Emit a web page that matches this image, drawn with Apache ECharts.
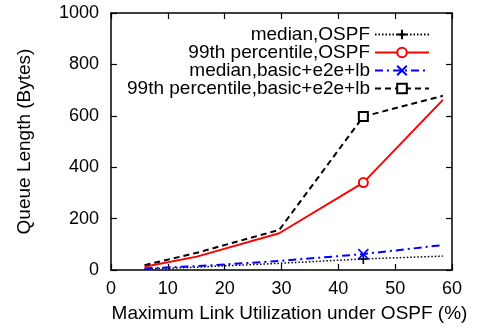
<!DOCTYPE html>
<html>
<head>
<meta charset="utf-8">
<script src="https://cdn.jsdelivr.net/npm/echarts@6/dist/echarts.min.js"></script>
<style>html,body{margin:0;padding:0;background:#fff}#chart{width:483px;height:330px}</style>
</head>
<body>
<div id="chart"></div>
<script>
// Maximum link utilization (%) at each measurement
const utilization = [5.9, 15.1, 29.6, 44.4, 58.4];
const medianOSPF = [4, 11, 26, 43, 54];
const p99OSPF = [13, 52, 143, 340, 662];
const medianE2E = [6, 15, 35, 62, 97];
const p99E2E = [19, 67, 156, 597, 678];
// Only this sample carries a marker
const markedIndex = 3;
const seriesNames = ['median,OSPF', '99th percentile,OSPF', 'median,basic+e2e+lb', '99th percentile,basic+e2e+lb'];

const FONT = 'Liberation Sans';
const plusPath = 'path://M5,0L5,10M0,5L10,5';
const crossPath = 'path://M0,0L10,10M10,0L0,10';

function pairs(values) {
  return values.map((v, i) => {
    const item = { value: [utilization[i], v] };
    if (i !== markedIndex) item.symbol = 'none';
    return item;
  });
}

function makeSeries(name, values, color, lineType, width, symbol, symbolSize) {
  return {
    name, type: 'line', data: pairs(values),
    symbol, symbolSize, showSymbol: true,
    lineStyle: { color, width, type: lineType },
    itemStyle: { color, borderColor: color, borderWidth: 1.6 },
    emphasis: { disabled: true },
    animation: false
  };
}

const chart = echarts.init(document.getElementById('chart'));
const axisLine = { show: true, onZero: false, lineStyle: { color: '#000', width: 1.5 } };
const axisTick = { show: true, inside: true, length: 6, lineStyle: { color: '#000', width: 1.2 } };
const tickFont = { fontFamily: FONT, fontSize: 18, color: '#000' };

chart.setOption({
  backgroundColor: '#fff',
  animation: false,
  grid: { left: 111, right: 31, top: 13, bottom: 60 },
  legend: {
    orient: 'vertical', right: 48, top: 20, align: 'right',
    itemWidth: 54, itemHeight: 12, itemGap: -1,
    textStyle: { fontFamily: FONT, fontSize: 19, color: '#000' },
    data: seriesNames
  },
  xAxis: [{
    type: 'value', min: 0, max: 60, interval: 10,
    name: 'Maximum Link Utilization under OSPF (%)', nameLocation: 'middle', nameGap: 34,
    nameTextStyle: { fontFamily: FONT, fontSize: 19, color: '#000', padding: [0, 0, 0, 16] },
    axisLine, axisTick, splitLine: { show: false },
    axisLabel: Object.assign({ margin: 10 }, tickFont)
  }, {
    type: 'value', min: 0, max: 60, interval: 10, position: 'top',
    axisLine, axisTick, splitLine: { show: false }, axisLabel: { show: false }
  }],
  yAxis: [{
    type: 'value', min: 0, max: 1000, interval: 200,
    name: 'Queue Length (Bytes)', nameLocation: 'middle', nameGap: 77,
    nameTextStyle: { fontFamily: FONT, fontSize: 19, color: '#000' },
    axisLine, axisTick, splitLine: { show: false },
    axisLabel: Object.assign({ margin: 12, formatter: v => String(v) }, tickFont)
  }, {
    type: 'value', min: 0, max: 1000, interval: 200, position: 'right',
    axisLine, axisTick, splitLine: { show: false }, axisLabel: { show: false }
  }],
  series: [
    makeSeries(seriesNames[0], medianOSPF, '#000', [1.5, 2], 1.5, plusPath, 10),
    makeSeries(seriesNames[1], p99OSPF, '#ff0000', 'solid', 2, 'emptyCircle', 9),
    makeSeries(seriesNames[2], medianE2E, '#0000ff', [8, 4, 2, 4], 2, crossPath, 10),
    makeSeries(seriesNames[3], p99E2E, '#000', [6, 4], 2, 'emptyRect', 9)
  ]
});
</script>
</body>
</html>
